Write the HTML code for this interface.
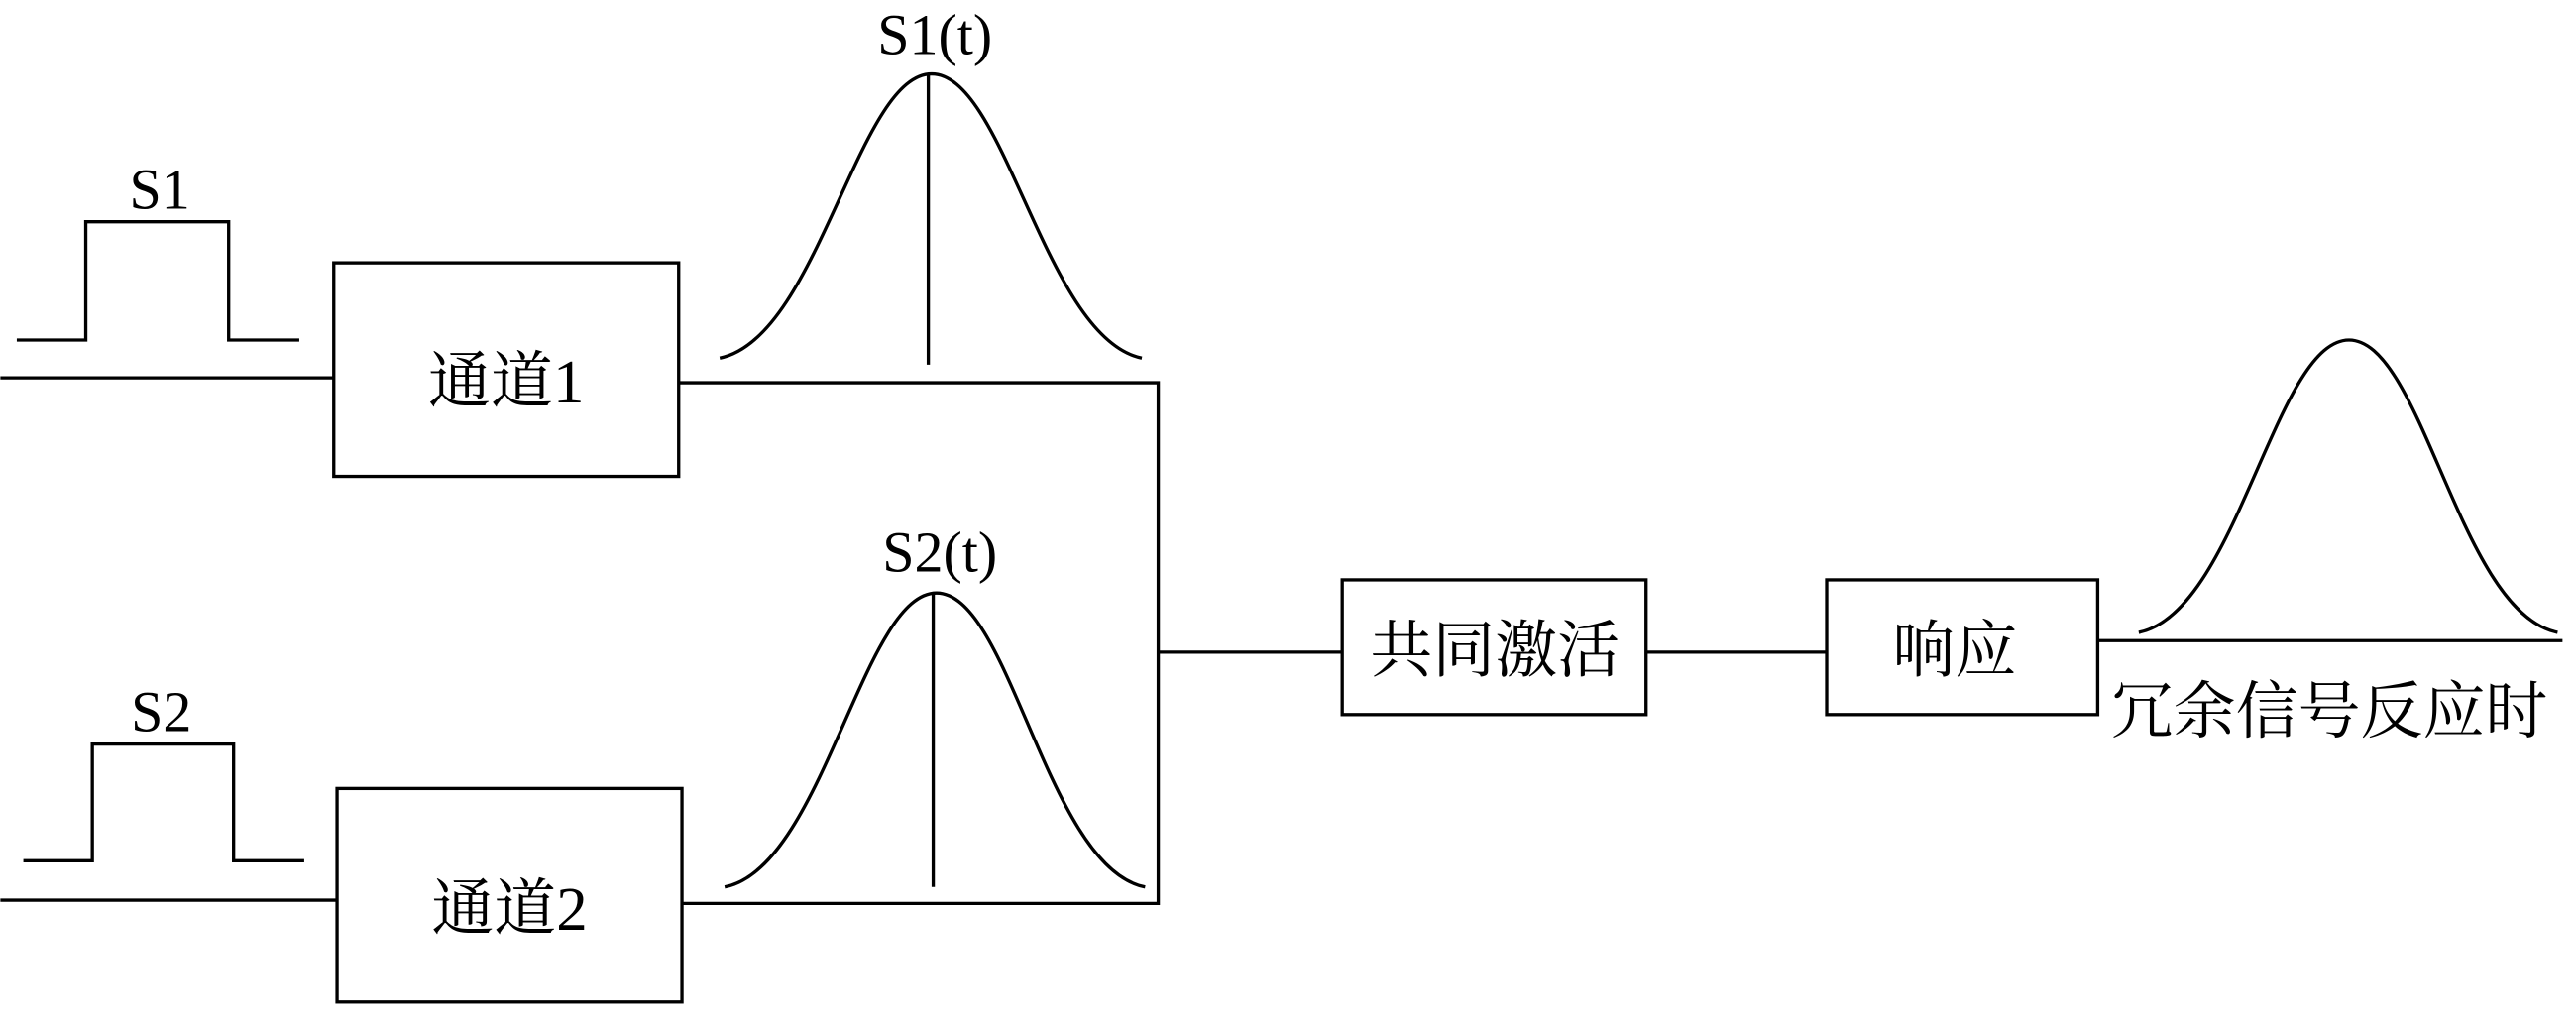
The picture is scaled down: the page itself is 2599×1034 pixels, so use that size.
<!DOCTYPE html>
<html><head><meta charset="utf-8"><style>
html,body{margin:0;padding:0;background:#fff;}
svg{display:block;}
text{font-family:"Liberation Serif","Noto Serif CJK SC",serif;fill:#000;}
</style></head><body>
<svg width="2599" height="1034" viewBox="0 0 1568 624" xmlns="http://www.w3.org/2000/svg">
<g fill="none" stroke="#000" stroke-width="2">
<polyline points="10,207 52,207 52,135 139,135 139,207 182,207"/>
<line x1="0" y1="230" x2="203" y2="230"/>
<rect x="203" y="160" width="210" height="130"/>
<polyline points="413,233 705,233 705,550 415,550"/>
<path d="M438,218 C498,206 522,45 567,45 C612,45 636,206 695,218"/>
<line x1="565" y1="45" x2="565" y2="222"/>
<polyline points="14,524 56,524 56,453 142,453 142,524 185,524"/>
<line x1="0" y1="548" x2="205" y2="548"/>
<rect x="205" y="480" width="210" height="130"/>
<path d="M441,540 C501,528 525,361 570,361 C615,361 637,528 697,540"/>
<line x1="568" y1="361" x2="568" y2="540"/>
<line x1="705" y1="397" x2="817" y2="397"/>
<rect x="817" y="353" width="185" height="82"/>
<line x1="1002" y1="397" x2="1112" y2="397"/>
<rect x="1112" y="353" width="165" height="82"/>
<line x1="1277" y1="390" x2="1560" y2="390"/>
<path d="M1302,385 C1362,373 1385,207 1430,207 C1475,207 1497,373 1557,385"/>
</g>
<g font-size="35" text-anchor="middle">
<text x="97" y="127">S1</text>
<text x="98" y="445">S2</text>
<text x="569" y="33">S1(t)</text>
<text x="572" y="348">S2(t)</text>
<g font-size="38">
<text x="308" y="245">通道1</text>
<text x="310" y="566">通道2</text>
<text x="910" y="409">共同激活</text>
<text x="1190" y="409">响应</text>
<text x="1418" y="446">冗余信号反应时</text>
</g>
</g>
</svg>
</body></html>
